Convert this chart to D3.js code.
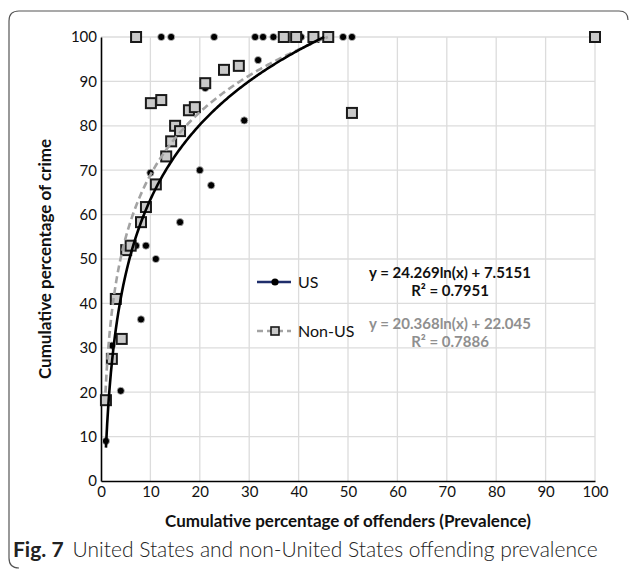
<!DOCTYPE html>
<html lang="en">
<head>
	<meta charset="UTF-8">
	<title>Fig. 7 offending prevalence</title>
	<script src="https://d3js.org/d3.v7.min.js"></script>
	<style>
		body { margin: 0; background: #fff; }
		text { font-family: Lato, "Open Sans", sans-serif; }
	</style>
</head>
<body>
<script>
	// ----data----
	var usX    = [1, 2.2, 4, 7.1, 9.1, 11.1, 8.1, 16, 10, 20, 22.3, 21.1, 29, 31.8, 12.2, 14.2, 22.9, 31.2, 32.8, 34.9, 40.5, 49, 50.8];
	var usY    = [9, 30.5, 20.3, 53, 53, 50, 36.4, 58.3, 69.4, 70, 66.6, 88.5, 81.2, 94.8, 100, 100, 100, 100, 100, 100, 100, 100, 100];
	var nonUsX = [1, 2.2, 3, 4.2, 5.1, 6, 8.1, 9.1, 11.1, 13.2, 14.2, 15, 16, 17.8, 19, 10.1, 12.2, 21.1, 24.9, 27.9, 7.1, 37, 39.5, 43, 46, 50.8, 100];
	var nonUsY = [18.2, 27.5, 41, 32, 52, 53, 58.3, 61.7, 66.8, 73.1, 76.5, 80, 78.8, 83.5, 84.2, 85.1, 85.8, 89.6, 92.6, 93.5, 100, 100, 100, 100, 100, 82.9, 100];

	// y = a ln(x) + b
	var trendUs    = [24.269, 7.5151];
	var trendNonUs = [20.368, 22.045];
	var eqUs    = ['y = 24.269ln(x) + 7.5151', 'R\u00b2 = 0.7951'];
	var eqNonUs = ['y = 20.368ln(x) + 22.045', 'R\u00b2 = 0.7886'];

	var xTicks = d3.range(0, 101, 10);
	var yTicks = d3.range(0, 101, 10);

	var W = 630, H = 569;
	var margin = {top: 37, bottom: 88, left: 101, right: 35};
	var width = W - margin.left - margin.right,
		height = H - margin.top - margin.bottom;

	var root = d3.select('body').append('svg')
		.attr('width', W)
		.attr('height', H);

	// ----figure frame----
	root.append('path')
		.attr('d', 'M628,20 Q628,11 619,11 L19,11 Q9,11 9,21 L9,558 Q9,568 19,568')
		.attr('fill', 'none')
		.attr('stroke', '#555')
		.attr('stroke-width', 1.2);

	var svg = root.append('g')
		.attr('transform', 'translate(' + margin.left + ',' + margin.top + ')');

	var x = d3.scaleLinear().domain([0, 100]).range([0, width]);
	var y = d3.scaleLinear().domain([0, 100]).range([height, 0]);

	//----grid----
	svg.append('g').selectAll('line.v')
		.data(xTicks.slice(1))
		.enter().append('line')
		.attr('x1', function (d) { return x(d); })
		.attr('x2', function (d) { return x(d); })
		.attr('y1', 0).attr('y2', height)
		.attr('stroke', '#dcdcdc').attr('stroke-width', 1.3);
	svg.append('g').selectAll('line.h')
		.data(yTicks.slice(1))
		.enter().append('line')
		.attr('y1', function (d) { return y(d); })
		.attr('y2', function (d) { return y(d); })
		.attr('x1', 0).attr('x2', width)
		.attr('stroke', '#dcdcdc').attr('stroke-width', 1.3);

	//----axes----
	var xAxis = svg.append('g')
		.attr('transform', 'translate(0,' + height + ')')
		.call(d3.axisBottom(x).tickValues(xTicks).tickSize(0).tickPadding(5));
	var yAxis = svg.append('g')
		.call(d3.axisLeft(y).tickValues(yTicks).tickSize(0).tickPadding(4));
	[xAxis, yAxis].forEach(function (g) {
		g.select('.domain').attr('stroke', '#000').attr('stroke-width', 1.6);
		g.selectAll('text')
			.attr('font-family', 'Lato, sans-serif')
			.attr('font-size', 15)
			.attr('fill', '#111');
	});

	//----markers----
	var nonUs = nonUsX.map(function (d, i) { return [d, nonUsY[i]]; });
	var us = usX.map(function (d, i) { return [d, usY[i]]; });

	svg.append('g').selectAll('circle')
		.data(us)
		.enter().append('circle')
		.attr('cx', function (d) { return x(d[0]); })
		.attr('cy', function (d) { return y(d[1]); })
		.attr('r', 3.6)
		.attr('fill', '#000')
		.attr('stroke', '#bbb')
		.attr('stroke-width', 0.8);

	var sq = 10;
	svg.append('g').selectAll('rect')
		.data(nonUs)
		.enter().append('rect')
		.attr('x', function (d) { return x(d[0]) - sq / 2; })
		.attr('y', function (d) { return y(d[1]) - sq / 2; })
		.attr('width', sq).attr('height', sq)
		.attr('fill', '#c9c9c9')
		.attr('stroke', '#1a1a1a')
		.attr('stroke-width', 2);

	//----log trend lines, clipped at 100----
	function trend(coef, x0) {
		var x1 = Math.exp((100 - coef[1]) / coef[0]);
		return d3.range(x0, x1, 0.25).concat([x1]).map(function (v) {
			return [v, coef[0] * Math.log(v) + coef[1]];
		});
	}
	var line = d3.line()
		.x(function (d) { return x(d[0]); })
		.y(function (d) { return y(d[1]); });

	svg.append('path')
		.datum(trend(trendNonUs, 0.9))
		.attr('d', line)
		.attr('fill', 'none')
		.attr('stroke', '#a3a3a3')
		.attr('stroke-width', 2.6)
		.attr('stroke-dasharray', '7,4');
	svg.append('path')
		.datum(trend(trendUs, 1))
		.attr('d', line)
		.attr('fill', 'none')
		.attr('stroke', '#000')
		.attr('stroke-width', 2.6);

	//----legend----
	var leg = root.append('g');
	leg.append('line')
		.attr('x1', 257).attr('x2', 291).attr('y1', 282).attr('y2', 282)
		.attr('stroke', '#1f2e6b').attr('stroke-width', 2.6);
	leg.append('circle')
		.attr('cx', 275).attr('cy', 282).attr('r', 3.6).attr('fill', '#000');
	leg.append('text')
		.attr('x', 298).attr('y', 288)
		.attr('font-size', 16).attr('fill', '#111')
		.text('US');
	leg.append('line')
		.attr('x1', 257).attr('x2', 291).attr('y1', 331).attr('y2', 331)
		.attr('stroke', '#a3a3a3').attr('stroke-width', 2.6)
		.attr('stroke-dasharray', '6,4');
	leg.append('rect')
		.attr('x', 271).attr('y', 327).attr('width', 8).attr('height', 8)
		.attr('fill', '#c9c9c9').attr('stroke', '#1a1a1a').attr('stroke-width', 1.6);
	leg.append('text')
		.attr('x', 298).attr('y', 337)
		.attr('font-size', 16).attr('fill', '#111')
		.text('Non-US');

	//----equations----
	function equation(lines, y0, color) {
		lines.forEach(function (t, i) {
			root.append('text')
				.attr('x', 450).attr('y', y0 + i * 18)
				.attr('text-anchor', 'middle')
				.attr('font-size', 15).attr('font-weight', 'bold')
				.attr('fill', color)
				.text(t);
		});
	}
	equation(eqUs, 278, '#111');
	equation(eqNonUs, 329, '#8f8f8f');

	//----titles----
	root.append('text')
		.attr('x', margin.left + width / 2).attr('y', 527)
		.attr('text-anchor', 'middle')
		.attr('font-size', 17).attr('font-weight', 'bold').attr('fill', '#111')
		.text('Cumulative percentage of offenders (Prevalence)');
	root.append('text')
		.attr('transform', 'translate(51,' + (margin.top + height / 2) + ') rotate(-90)')
		.attr('text-anchor', 'middle')
		.attr('font-size', 17).attr('font-weight', 'bold').attr('fill', '#111')
		.text('Cumulative percentage of crime');

	var cap = root.append('text')
		.attr('x', 13).attr('y', 557)
		.attr('font-size', 21).attr('fill', '#222');
	cap.append('tspan').attr('font-weight', 'bold').text('Fig. 7');
	cap.append('tspan').attr('dx', 9).attr('font-weight', 300)
		.text('United States and non-United States offending prevalence');
</script>
</body>
</html>
